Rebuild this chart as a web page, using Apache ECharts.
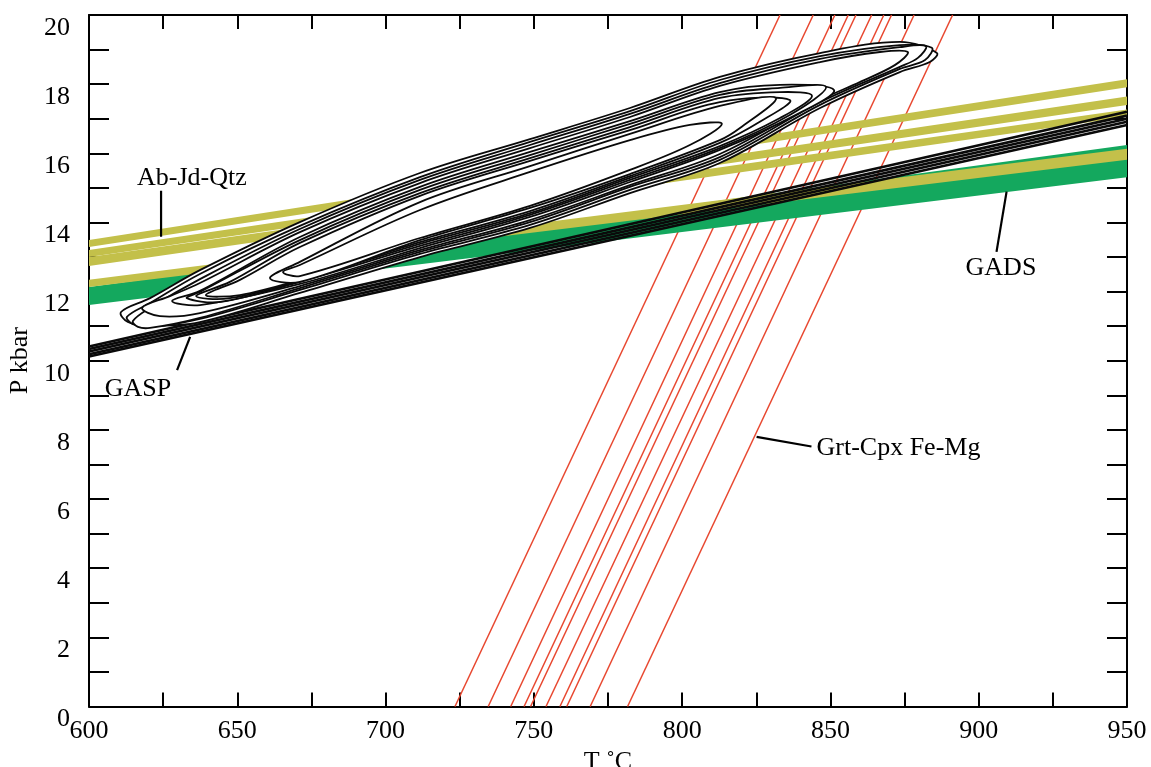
<!DOCTYPE html>
<html>
<head>
<meta charset="utf-8">
<script src="https://cdn.jsdelivr.net/npm/echarts@6/dist/echarts.min.js"></script>
<style>
  html, body { margin: 0; padding: 0; background: #ffffff; }
  #chart { width: 1151px; height: 767px; }
</style>
</head>
<body>
<div id="chart"></div>
<script>
// ---- Thermobarometry P–T diagram: temperature (°C) vs pressure (kbar) ----

// Grt-Cpx Fe-Mg thermometer lines: temperature at P = 0 and at P = 20 kbar
const grtCpxT0  = [723.4, 734.6, 742.2, 746.7, 748.9, 754.1, 758.8, 761.1, 769.0, 781.6];
const grtCpxT20 = [833.0, 844.2, 851.5, 856.0, 858.6, 863.9, 868.0, 870.6, 878.2, 891.2];
const grtCpxP   = [0, 20];

// Band end temperatures
const bandT = [600, 950];

// Ab-Jd-Qtz barometer bands: [P top @600, P bottom @600, P top @950, P bottom @950]
const abJdQtzUpper = [
  [13.49, 13.29, 18.14, 17.91],
  [13.20, 13.00, 17.64, 17.40],
  [13.00, 12.74, 17.27, 17.06]
];
const abJdQtzLower = [12.34, 12.13, 16.13, 15.81];

// GADS barometer band
const gadsBand = [12.13, 11.61, 16.24, 15.31];

// GASP barometer lines: pressure at 600 °C and at 950 °C
const gaspP600 = [10.41, 10.34, 10.27, 10.19, 10.12];
const gaspP950 = [17.20, 17.09, 17.00, 16.91, 16.82];

// Closed P–T contours, outermost first: [T, P]
const loop1 = [[610.8,11.41],[620.6,11.81],[637.4,12.62],[671.1,14.01],[711.6,15.43],[748.7,16.41],[782.4,17.31],[812.7,18.21],[846.5,18.90],[873.4,19.22],[885.9,18.90],[883.5,18.64],[873.4,18.35],[846.5,17.31],[812.7,15.72],[782.4,14.85],[748.7,13.84],[711.6,13.00],[671.1,11.96],[637.4,11.12],[620.6,11.01],[613.1,11.12]];
const loop2 = [[612.8,11.27],[620.6,11.67],[637.4,12.51],[671.1,13.90],[711.6,15.31],[748.7,16.33],[782.4,17.22],[812.7,18.12],[846.5,18.81],[873.4,19.13],[884.2,19.05],[881.9,18.70],[873.4,18.44],[846.5,17.40],[812.7,15.81],[782.4,14.94],[748.7,13.93],[711.6,13.09],[671.1,12.05],[637.4,11.21],[620.6,10.98],[614.8,11.06]];
const loop3 = [[614.8,11.15],[620.6,11.53],[637.4,12.36],[671.1,13.81],[711.6,15.23],[748.7,16.24],[782.4,17.14],[812.7,18.03],[846.5,18.73],[873.4,19.07],[882.2,19.10],[879.5,18.76],[873.4,18.50],[846.5,17.48],[812.7,15.89],[782.4,15.03],[748.7,14.01],[711.6,13.15],[671.1,12.10],[637.4,11.24],[620.6,10.95],[616.5,10.98]];
const loop4 = [[617.9,11.53],[627.3,11.87],[637.4,12.25],[671.1,13.72],[711.6,15.14],[748.7,16.15],[782.4,17.05],[812.7,17.95],[846.5,18.64],[866.7,18.93],[876.1,18.93],[871.7,18.55],[859.9,18.06],[846.5,17.54],[812.7,15.98],[782.4,15.08],[748.7,14.07],[711.6,13.20],[671.1,12.16],[637.4,11.38],[623.9,11.29]];
const loop5 = [[628.0,11.73],[637.4,12.02],[671.1,13.58],[711.6,15.03],[748.7,16.04],[782.4,16.93],[812.7,17.77],[833.0,17.98],[851.2,17.83],[839.7,17.17],[812.7,16.10],[782.4,15.17],[748.7,14.16],[711.6,13.26],[671.1,12.22],[637.4,11.61]];
const loop6 = [[633.0,11.81],[637.4,11.99],[671.1,13.49],[711.6,14.94],[748.7,15.95],[782.4,16.85],[812.7,17.69],[833.0,17.89],[848.5,17.92],[836.3,17.11],[812.7,16.15],[782.4,15.23],[748.7,14.22],[711.6,13.32],[671.1,12.28],[644.2,11.70]];
const loop7 = [[636.1,11.87],[647.5,12.28],[671.1,13.41],[711.6,14.85],[748.7,15.86],[782.4,16.76],[812.7,17.60],[833.0,17.77],[843.8,17.66],[833.0,17.02],[812.7,16.21],[782.4,15.29],[748.7,14.27],[711.6,13.38],[671.1,12.31],[647.5,11.81]];
const loop8 = [[639.4,11.90],[650.9,12.34],[671.1,13.29],[711.6,14.77],[748.7,15.78],[782.4,16.67],[812.7,17.48],[836.3,17.54],[826.2,16.91],[812.7,16.30],[782.4,15.34],[748.7,14.33],[711.6,13.43],[671.1,12.34],[650.9,11.90]];
const loop9 = [[661.0,12.39],[671.1,12.86],[711.6,14.59],[748.7,15.63],[782.4,16.56],[812.7,17.37],[831.6,17.60],[819.5,16.73],[812.7,16.38],[782.4,15.40],[748.7,14.42],[711.6,13.49],[671.1,12.28]];
const loop10 = [[665.4,12.57],[671.1,12.77],[711.6,14.36],[748.7,15.46],[782.4,16.38],[802.6,16.82],[813.4,16.85],[802.6,16.24],[782.4,15.52],[748.7,14.48],[711.6,13.55],[671.1,12.45]];
const loops = [loop1, loop2, loop3, loop4, loop5, loop6, loop7, loop8, loop9, loop10];

// Annotation text anchors [T, P, text] and leader lines [[T,P],[T,P]]
const labelAbJdQtz = [634.7, 15.29, 'Ab-Jd-Qtz'];
const labelGasp    = [616.5, 9.18, 'GASP'];
const labelGads    = [907.5, 12.68, 'GADS'];
const labelGrtCpx  = [845.3, 7.48, 'Grt-Cpx Fe-Mg'];
const leaderAbJdQtz = [[624.3, 14.92], [624.3, 13.59]];
const leaderGasp    = [[629.7, 9.73], [634.1, 10.69]];
const leaderGads    = [[906.0, 13.15], [909.4, 14.89]];
const leaderGrtCpx  = [[825.1, 7.80], [843.6, 7.52]];

// Axis ranges
const tRange = [600, 950];
const pRange = [0, 20];

const FONT = '"Liberation Serif", "Times New Roman", serif';
const RED = '#e8472f';
const OLIVE = '#c3c04a';
const GREEN = '#14a85e';
const INK = '#0a0a0a';

const chart = echarts.init(document.getElementById('chart'), null, { renderer: 'canvas' });

function bandSeries(band, color, z) {
  return {
    type: 'custom', silent: true, z: z,
    data: [[bandT[0], band[0]]],
    renderItem: (params, api) => ({
      type: 'polygon',
      shape: {
        points: [
          api.coord([bandT[0], band[0]]),
          api.coord([bandT[1], band[2]]),
          api.coord([bandT[1], band[3]]),
          api.coord([bandT[0], band[1]])
        ]
      },
      style: { fill: color }
    })
  };
}

function loopSeries(loop) {
  return {
    type: 'custom', silent: true, z: 5,
    data: [loop[0]],
    renderItem: (params, api) => ({
      type: 'polygon',
      shape: { points: loop.map(pt => api.coord(pt)), smooth: 0.35 },
      style: { fill: '#ffffff', stroke: INK, lineWidth: 1.8 }
    })
  };
}

function lineSeries(data, color, width, z) {
  return {
    type: 'line', data: data, symbol: 'none', silent: true, z: z,
    lineStyle: { color: color, width: width }, clip: true, animation: false
  };
}

function textSeries(label, align) {
  return {
    type: 'custom', silent: true, z: 8,
    data: [[label[0], label[1]]],
    renderItem: (params, api) => {
      const p = api.coord([api.value(0), api.value(1)]);
      return {
        type: 'text', x: p[0], y: p[1],
        style: {
          text: label[2], fill: '#000', fontFamily: FONT, fontSize: 26,
          align: align, verticalAlign: 'middle'
        }
      };
    }
  };
}

const series = [];
// thermometer lines (drawn first, beneath everything)
grtCpxT0.forEach((t0, i) => {
  series.push(lineSeries([[t0, grtCpxP[0]], [grtCpxT20[i], grtCpxP[1]]], RED, 1.5, 1));
});
// barometer bands
series.push(bandSeries(gadsBand, GREEN, 2));
abJdQtzUpper.forEach(b => series.push(bandSeries(b, OLIVE, 2)));
series.push(bandSeries(abJdQtzLower, OLIVE, 3));
// GASP lines
gaspP600.forEach((p, i) => {
  series.push(lineSeries([[bandT[0], p], [bandT[1], gaspP950[i]]], INK, 2.6, 4));
});
// contours
loops.forEach(l => series.push(loopSeries(l)));
// leader lines
[leaderAbJdQtz, leaderGasp, leaderGads, leaderGrtCpx].forEach(l => {
  series.push(lineSeries(l, '#000', 2.2, 7));
});
// annotation text
series.push(textSeries(labelAbJdQtz, 'center'));
series.push(textSeries(labelGasp, 'center'));
series.push(textSeries(labelGads, 'center'));
series.push(textSeries(labelGrtCpx, 'left'));

const axisLineStyle = { color: '#000', width: 2 };
const labelStyle = { color: '#000', fontFamily: FONT, fontSize: 26 };

const option = {
  animation: false,
  backgroundColor: '#ffffff',
  grid: { left: 89, right: 24, top: 15, bottom: 60.5, containLabel: false, outerBoundsMode: 'none' },
  xAxis: [
    {
      type: 'value', min: tRange[0], max: tRange[1], interval: 25, position: 'bottom',
      axisLine: { show: true, onZero: false, lineStyle: axisLineStyle },
      axisTick: { show: true, inside: true, length: 14, lineStyle: axisLineStyle },
      axisLabel: Object.assign({ margin: 12, formatter: v => (v % 50 === 0 ? String(v) : '') }, labelStyle),
      splitLine: { show: false },
      name: 'T ˚C', nameLocation: 'middle', nameGap: 37,
      nameTextStyle: Object.assign({}, labelStyle)
    },
    {
      type: 'value', min: tRange[0], max: tRange[1], interval: 25, position: 'top',
      axisLine: { show: true, onZero: false, lineStyle: axisLineStyle },
      axisTick: { show: true, inside: true, length: 14, lineStyle: axisLineStyle },
      axisLabel: { show: false }, splitLine: { show: false }
    }
  ],
  yAxis: [
    {
      type: 'value', min: pRange[0], max: pRange[1], interval: 1, position: 'left',
      axisLine: { show: true, onZero: false, lineStyle: axisLineStyle },
      axisTick: { show: true, inside: true, length: 20, lineStyle: axisLineStyle },
      axisLabel: Object.assign({ margin: 19, verticalAlign: 'top', formatter: v => (v % 2 === 0 ? String(v) : '') }, labelStyle),
      splitLine: { show: false },
      name: 'P kbar', nameLocation: 'middle', nameGap: 52,
      nameTextStyle: Object.assign({ padding: [0, 0, 0, 0] }, labelStyle)
    },
    {
      type: 'value', min: pRange[0], max: pRange[1], interval: 1, position: 'right',
      axisLine: { show: true, onZero: false, lineStyle: axisLineStyle },
      axisTick: { show: true, inside: true, length: 20, lineStyle: axisLineStyle },
      axisLabel: { show: false }, splitLine: { show: false }
    }
  ],
  series: series
};

chart.setOption(option);
</script>
</body>
</html>
